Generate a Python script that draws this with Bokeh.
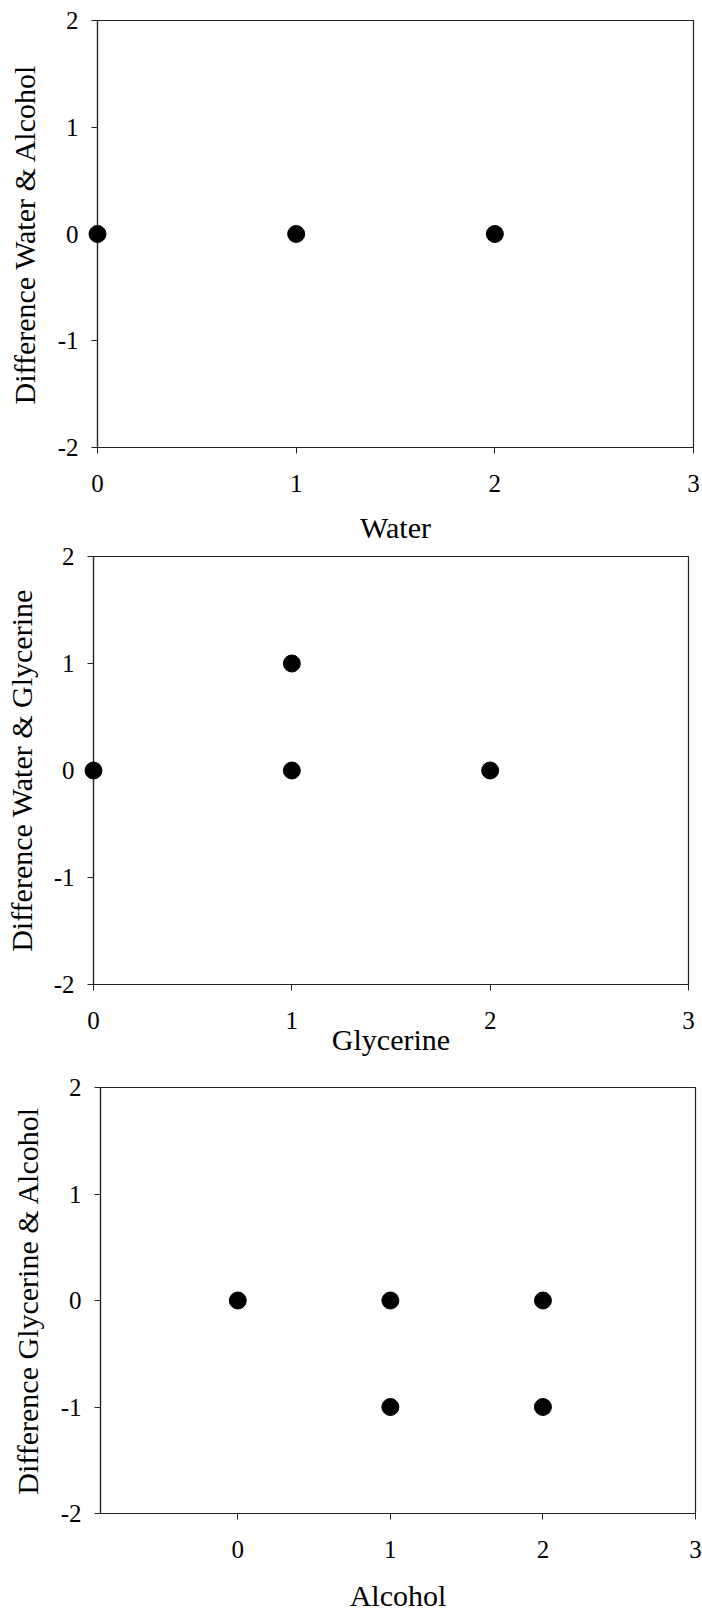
from bokeh.plotting import figure
from bokeh.layouts import column
from bokeh.models import Range1d, FixedTicker
from bokeh.embed import file_html
from bokeh.resources import INLINE

# Panel 1: Water vs Difference Water & Alcohol
water_x = [0, 1, 2]
water_y = [0, 0, 0]
# Panel 2: Glycerine vs Difference Water & Glycerine
glyc_x = [0, 1, 1, 2]
glyc_y = [0, 1, 0, 0]
# Panel 3: Alcohol vs Difference Glycerine & Alcohol
alc_x = [0, 1, 2, 1, 2]
alc_y = [0, 0, 0, -1, -1]

x_ticks = [0, 1, 2, 3]
y_ticks = [-2, -1, 0, 1, 2]
y_tick_labels = {-2: "-2", -1: "-1", 0: "0", 1: "1", 2: "2"}

FONT = "Liberation Serif"
LEFT = 99


def make_panel(xs, ys, xlabel, ylabel, xstart, width, height, top, bottom,
               xlab_standoff, ylab_standoff, margin):
    p = figure(width=width, height=height, output_backend="svg", toolbar_location=None,
               x_range=Range1d(xstart, 3), y_range=Range1d(-2, 2),
               min_border_left=LEFT, min_border_right=7,
               min_border_top=top, min_border_bottom=bottom)
    p.margin = margin
    p.scatter(xs, ys, size=17, color="black", marker="circle", level="overlay")
    p.xgrid.visible = False
    p.ygrid.visible = False
    p.outline_line_color = "#222222"
    p.outline_line_width = 1.2
    p.background_fill_color = "white"
    p.border_fill_color = None
    p.border_fill_alpha = 0
    for ax, ticks in ((p.xaxis[0], x_ticks), (p.yaxis[0], y_ticks)):
        ax.ticker = FixedTicker(ticks=ticks)
        ax.minor_tick_line_color = None
        ax.major_tick_in = 0
        ax.major_tick_out = 6
        ax.major_tick_line_color = "#222222"
        ax.axis_line_color = "#222222"
        ax.axis_line_width = 1.2
        ax.major_label_text_font = FONT
        ax.major_label_text_font_size = "25px"
        ax.major_label_text_color = "black"
        ax.axis_label_text_font = FONT
        ax.axis_label_text_font_size = "30px"
        ax.axis_label_text_font_style = "normal"
        ax.axis_label_text_color = "black"
    p.yaxis[0].major_label_overrides = y_tick_labels
    p.xaxis[0].axis_label = xlabel
    p.yaxis[0].axis_label = ylabel
    p.xaxis[0].major_label_standoff = 21
    p.yaxis[0].major_label_standoff = 13
    p.xaxis[0].axis_label_standoff = xlab_standoff
    p.yaxis[0].axis_label_standoff = ylab_standoff
    return p


p1 = make_panel(water_x, water_y, "Water", "Difference Water & Alcohol", 0,
                702, 546, 20, 98, 16, 14, (0, 0, 0, -2))
p2 = make_panel(glyc_x, glyc_y, "Glycerine", "Difference Water & Glycerine", 0,
                701, 533, 17, 88, -9, 13, (-7, 0, 0, -6))
p3 = make_panel(alc_x, alc_y, "Alcohol", "Difference Glycerine & Alcohol", -0.9,
                701, 544, 17, 99, 18, 14, (-2, 0, 0, 1))

layout = column(p1, p2, p3, spacing=0)
open("out.html", "w").write(file_html(layout, INLINE))
